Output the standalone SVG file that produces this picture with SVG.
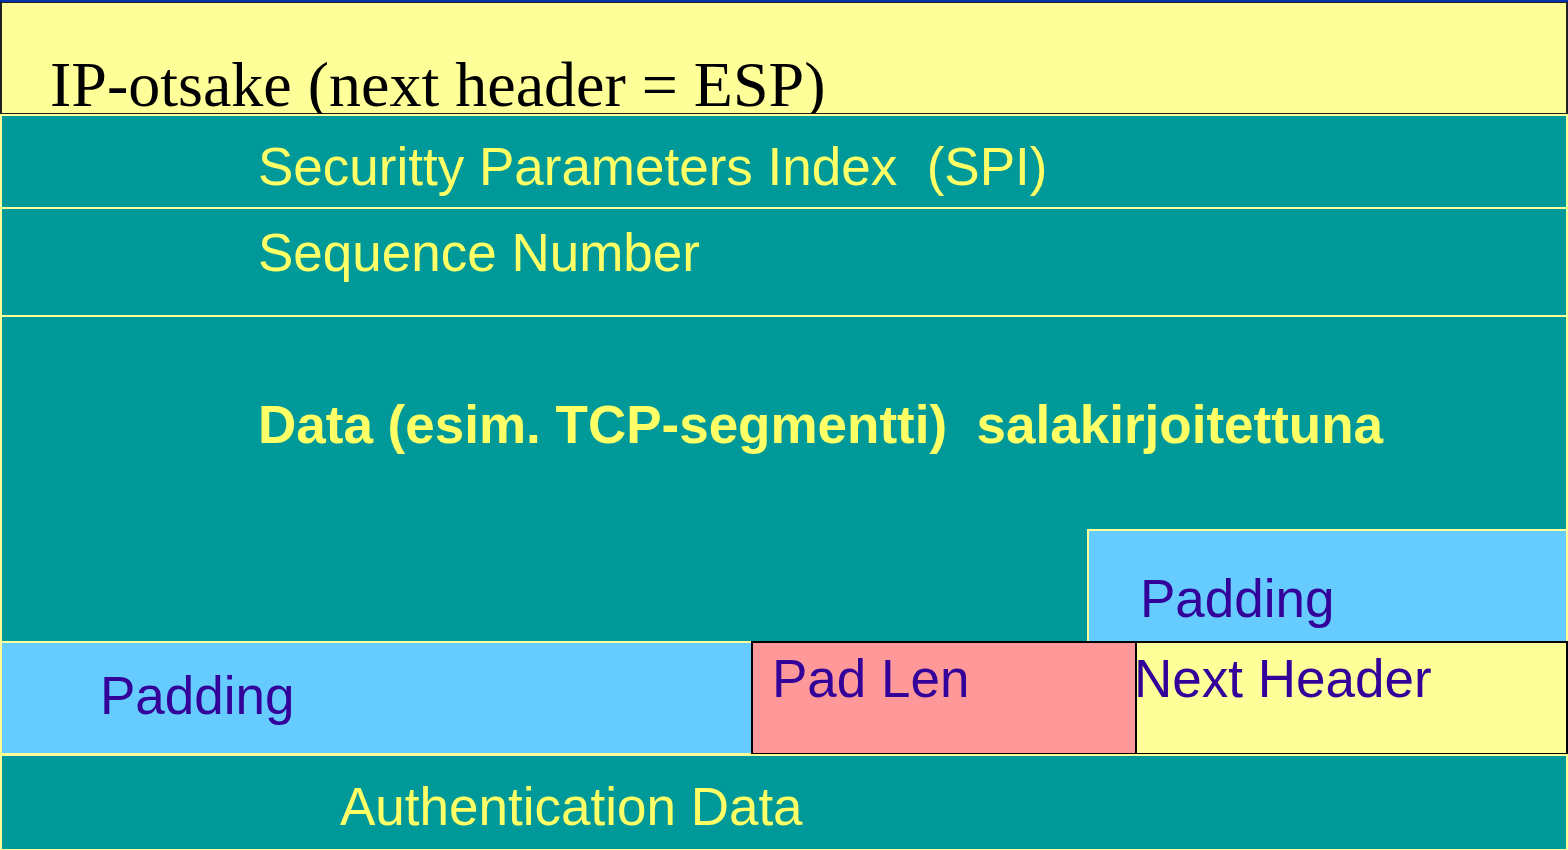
<svg xmlns="http://www.w3.org/2000/svg" width="1568" height="850" viewBox="0 0 1568 850">
<style>
.lbl{font-family:"Liberation Sans",Arial,sans-serif;font-size:53px;white-space:pre}
.yl{fill:#FFFF66}
.pu{fill:#330099}
.teal{fill:#009999;stroke:#FFFF99;stroke-width:2}
</style>
<rect x="0" y="0" width="1568" height="850" fill="#009999"/>
<g id="ip">
<rect x="1" y="2" width="1566" height="112" fill="#FFFF99" stroke="#222" stroke-width="2"/>
<rect x="0" y="0" width="1568" height="2" fill="#0033AA"/>
<text x="50" y="106" font-family="'Liberation Serif','Times New Roman',serif" font-size="64" fill="#000">IP-otsake (next header = ESP)</text>
</g>
<g id="spi">
<rect class="teal" x="1" y="115" width="1566" height="93"/>
<text class="lbl yl" x="258" y="185" xml:space="preserve">Securitty Parameters Index  (SPI)</text>
</g>
<g id="seq">
<rect class="teal" x="1" y="208" width="1566" height="108"/>
<text class="lbl yl" x="258" y="271">Sequence Number</text>
</g>
<g id="data">
<rect class="teal" x="1" y="316" width="1566" height="326"/>
<text class="lbl yl" x="258" y="443" font-weight="bold" xml:space="preserve">Data (esim. TCP-segmentti)  salakirjoitettuna</text>
</g>
<g id="padding-right">
<rect x="1088" y="530" width="479" height="112" fill="#66CCFF" stroke="#FFFF99" stroke-width="2"/>
<text class="lbl pu" x="1140" y="617">Padding</text>
</g>
<g id="padding-left">
<rect x="1" y="642" width="751" height="112" fill="#66CCFF" stroke="#FFFF99" stroke-width="2"/>
<text class="lbl pu" x="100" y="714">Padding</text>
</g>
<g id="padlen">
<rect x="752" y="642" width="384" height="112" fill="#FF9999" stroke="#000" stroke-width="2"/>
<text class="lbl pu" x="772" y="697">Pad Len</text>
</g>
<g id="nexthdr">
<rect x="1136" y="642" width="431" height="112" fill="#FFFF99" stroke="#000" stroke-width="2"/>
<text class="lbl pu" x="1134" y="697">Next Header</text>
</g>
<g id="auth">
<rect class="teal" x="1" y="755" width="1566" height="95"/>
<text class="lbl yl" x="340" y="825">Authentication Data</text>
</g>
<g id="connectors"></g>
</svg>
